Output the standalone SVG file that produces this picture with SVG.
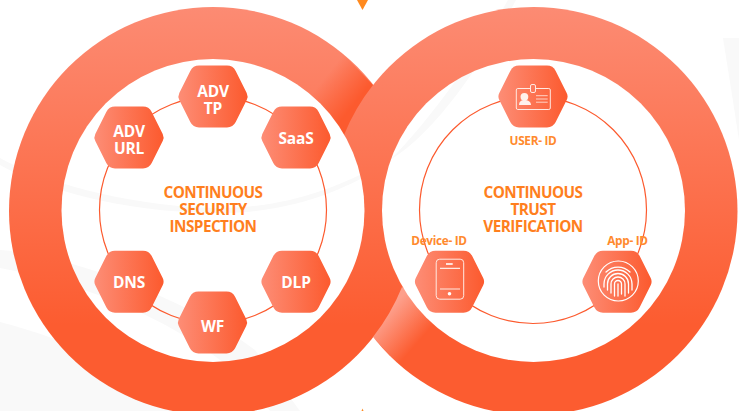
<svg xmlns="http://www.w3.org/2000/svg" xmlns:xlink="http://www.w3.org/1999/xlink" width="739" height="411" viewBox="0 0 739 411">
<style>
text{font-family:"Open Sans","Noto Sans","Liberation Sans",sans-serif;font-weight:700;text-anchor:middle}
.h{font-size:15.5px;fill:#fff;letter-spacing:-.2px}
.c{font-size:15.3px;fill:#FF7F1E;letter-spacing:-.55px}
.l{font-size:11.8px;fill:#FF8A2E;letter-spacing:-.3px}
.thin{fill:none;stroke:#FC5A2E;stroke-width:1.2}
.ic{fill:none;stroke:#FFE9E2;stroke-width:1}
.fp{fill:none;stroke:#fff;stroke-width:1.3;stroke-linecap:round}
.sw{fill:#F9F9F9}
</style>
<defs>
<linearGradient id="ring" gradientUnits="userSpaceOnUse" x1="0" y1="7" x2="0" y2="325"><stop offset="0" stop-color="#FC8B73"/><stop offset="1" stop-color="#FC5C30"/></linearGradient>
<linearGradient id="hexg" x1="0" y1="0" x2="1" y2="0"><stop offset="0" stop-color="#FD8D76"/><stop offset="1" stop-color="#FC5A2E"/></linearGradient>
<linearGradient id="dark" gradientUnits="userSpaceOnUse" x1="358" y1="108" x2="323" y2="80"><stop offset=".12" stop-color="#FC5A2E"/><stop offset="1" stop-color="#FC5A2E" stop-opacity="0"/></linearGradient>
<linearGradient id="light" gradientUnits="userSpaceOnUse" x1="388" y1="312" x2="420" y2="340"><stop offset="0" stop-color="#FD9F8B"/><stop offset="1" stop-color="#FD9F8B" stop-opacity="0"/></linearGradient>
<path id="hex" fill="url(#hexg)" d="M-14,-31H14Q20,-31 22.7,-25.6L33.7,-3.6Q35.5,0 33.7,3.6L22.7,25.6Q20,31 14,31H-14Q-20,31 -22.7,25.6L-33.7,3.6Q-35.5,0 -33.7,-3.6L-22.7,-25.6Q-20,-31 -14,-31Z"/>
<mask id="rings" maskUnits="userSpaceOnUse" x="0" y="0" width="739" height="411">
<circle cx="213" cy="211" r="204" fill="#fff"/><circle cx="533.5" cy="211" r="204" fill="#fff"/>
<circle cx="213" cy="210.5" r="151.5" fill="#000"/><circle cx="533.5" cy="210.5" r="151.5" fill="#000"/>
</mask>
</defs>
<rect width="739" height="411" fill="#fff"/>
<g id="background">
<path class="sw" d="M0,322C70,340 140,372 172,411H0Z"/>
<path class="sw" d="M0,250C70,255 190,300 255,350L300,411H270C230,350 120,290 0,268Z"/>
<path class="sw" d="M0,158C40,180 120,205 213,208C280,209 330,190 370,170V174C330,196 280,214 213,213C120,212 40,188 0,165Z"/>
<path class="sw" d="M516,0C490,50 440,130 390,160C430,120 480,50 508,0Z"/>
<path class="sw" d="M723,38H739V140C733,100 728,70 723,38Z"/>
</g>
<g id="connectors">
<g mask="url(#rings)">
<rect width="739" height="411" fill="url(#ring)"/>
<path fill="url(#dark)" d="M373,85A204,204 0 0 0 344,135L290,90L320,30Z"/>
<path fill="url(#light)" d="M402,287A204,204 0 0 1 373,337L430,400L470,330Z"/>
</g>
<circle class="thin" cx="213" cy="210" r="113.5"/>
<circle class="thin" cx="533" cy="210" r="113.5"/>
</g>
<polygon id="top-marker" points="357,0 368,0 362.5,10" fill="#FF8A1F"/>
<polygon id="bottom-marker" points="361.5,411 363.5,411 362.5,408.5" fill="#FF8A1F"/>
<g id="adv-tp"><use xlink:href="#hex" href="#hex" x="213" y="96.5"/><text class="h" x="213" y="97">ADV</text><text class="h" x="213" y="114">TP</text></g>
<g id="adv-url"><use xlink:href="#hex" href="#hex" x="129" y="137.5"/><text class="h" x="129" y="137">ADV</text><text class="h" x="129" y="154">URL</text></g>
<g id="saas"><use xlink:href="#hex" href="#hex" x="296" y="137.5"/><text class="h" x="296" y="144">SaaS</text></g>
<g id="dns"><use xlink:href="#hex" href="#hex" x="129" y="281.7"/><text class="h" x="129" y="288">DNS</text></g>
<g id="dlp"><use xlink:href="#hex" href="#hex" x="296" y="281.7"/><text class="h" x="296" y="288">DLP</text></g>
<g id="wf"><use xlink:href="#hex" href="#hex" x="212.5" y="322.5"/><text class="h" x="212.5" y="332">WF</text></g>
<g id="security-title"><text class="c" x="213" y="198">CONTINUOUS</text><text class="c" x="213" y="215">SECURITY</text><text class="c" x="213" y="232">INSPECTION</text></g>
<g id="trust-title"><text class="c" x="533" y="198">CONTINUOUS</text><text class="c" x="533" y="215">TRUST</text><text class="c" x="533" y="232">VERIFICATION</text></g>
<g id="user-id"><use xlink:href="#hex" href="#hex" x="533" y="96.5"/>
<rect class="ic" x="516.3" y="88.5" width="34" height="21" rx="1.5"/>
<rect x="530.5" y="84.5" width="5" height="8" rx="1.5" fill="#FC7A5C" stroke="#FFE9E2" stroke-width="1"/>
<circle cx="524.4" cy="96.8" r="3.9" fill="#FFF1EC"/>
<path d="M519,105C519,101 522,100 524.4,100C527,100 531,101 531,105Z" fill="#FFF1EC"/>
<path d="M536,95.7H547.7M536,99H547.7M536,102.2H547.7" stroke="#FFD3C6" fill="none"/>
<text class="l" x="533" y="145">USER- ID</text></g>
<g id="device-id"><use xlink:href="#hex" href="#hex" x="449.5" y="281.7"/>
<rect class="ic" x="436.2" y="259.2" width="27.5" height="40" rx="3.5"/>
<path d="M446,264H452.7" stroke="#fff" stroke-width="1.6"/>
<path d="M440,268.4H460M440,289H460" stroke="#FFE9E2" stroke-width="1.1"/>
<circle cx="449.5" cy="293.8" r="1.8" fill="#fff"/>
<text class="l" x="439" y="245">Device- ID</text></g>
<g id="app-id"><use xlink:href="#hex" href="#hex" x="617" y="281.7"/>
<circle cx="618.3" cy="281" r="20" fill="none" stroke="#fff" stroke-width="1.2"/>
<path class="fp" d="M618,296V284M614.5,296V284A3.5,3.5 0 0 1 621.5,284V294M611,293V284A7,7 0 0 1 625,284V296M607.5,290V284A10.5,10.5 0 0 1 628.5,284V293M604,287V284A14,14 0 0 1 632,284V290M606,272A17,17 0 0 1 630,272"/>
<text class="l" x="627.5" y="245">App- ID</text></g>
</svg>
